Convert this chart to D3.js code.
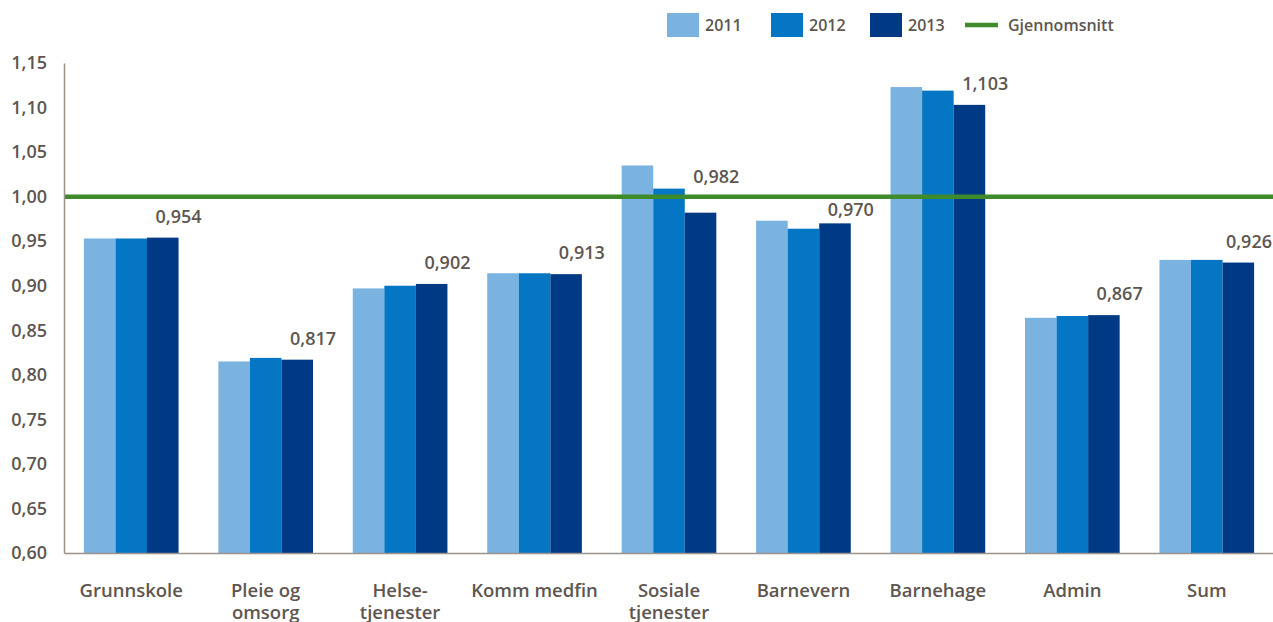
<!DOCTYPE html>
<html>
<head>
<meta charset="utf-8">
<script src="https://cdn.jsdelivr.net/npm/d3@7"></script>
<style>
  body { margin: 0; background: #fff; }
  svg text { font-family: "Open Sans", sans-serif; font-weight: 600; fill: #5e5650; }
</style>
</head>
<body>
<script>
// data
var categories = [["Grunnskole"], ["Pleie og", "omsorg"], ["Helse-", "tjenester"], ["Komm medfin"],
  ["Sosiale", "tjenester"], ["Barnevern"], ["Barnehage"], ["Admin"], ["Sum"]];
var years = ["2011", "2012", "2013"];
var values2011 = [0.953, 0.815, 0.897, 0.914, 1.035, 0.973, 1.123, 0.864, 0.929];
var values2012 = [0.953, 0.819, 0.900, 0.914, 1.009, 0.964, 1.119, 0.866, 0.929];
var values2013 = [0.954, 0.817, 0.902, 0.913, 0.982, 0.970, 1.103, 0.867, 0.926];
var average = 1.0;
var yTicks = [0.60, 0.65, 0.70, 0.75, 0.80, 0.85, 0.90, 0.95, 1.00, 1.05, 1.10, 1.15];
var colors = ["#7ab3e0", "#0576c4", "#003a84"];
var avgColor = "#3f8a2b";

var svgWidth = 1273, svgHeight = 622;
var margin = { left: 64, right: 1274, top: 63, bottom: 553 };

var svg = d3.select("body").append("svg")
  .attr("width", svgWidth)
  .attr("height", svgHeight);

var series = [values2011, values2012, values2013];
var rows = categories.map(function(c, i) {
  return { idx: i, label: c, vals: series.map(function(s) { return s[i]; }) };
});

// scales
var x0 = d3.scaleBand()
  .domain(d3.range(categories.length))
  .range([margin.left, margin.right])
  .paddingInner(0.296)
  .paddingOuter(0.148);

var x1 = d3.scaleBand()
  .domain(years)
  .range([0, x0.bandwidth()]);

var y = d3.scaleLinear()
  .domain([0.60, 1.15])
  .range([margin.bottom, margin.top]);

var fmt = function(v, n) { return v.toFixed(n).replace(".", ","); };

// bars
var groups = svg.append("g").selectAll("g")
  .data(rows)
  .enter().append("g")
  .attr("transform", d => `translate(${x0(d.idx)},0)`);

groups.selectAll("rect")
  .data(d => d.vals.map((v, k) => ({ year: years[k], v: v, k: k })))
  .enter().append("rect")
  .attr("x", d => x1(d.year))
  .attr("width", x1.bandwidth())
  .attr("y", d => y(d.v))
  .attr("height", d => y(0.60) - y(d.v))
  .attr("fill", d => colors[d.k]);

// average line
svg.append("line")
  .attr("x1", margin.left).attr("x2", svgWidth)
  .attr("y1", y(average)).attr("y2", y(average))
  .attr("stroke", avgColor)
  .attr("stroke-width", 4.5);

// value labels over the 2013 bar, pushed off the average line if they hit it
var capH = 13;
function labelY(v) {
  var base = y(v) - 15;
  var lineY = y(average);
  if (base + 3 > lineY - 3 && base - capH < lineY + 3) {
    base = (base - capH / 2 < lineY) ? lineY - 14 : lineY + 6 + capH;
  }
  return base;
}

groups.append("text")
  .attr("x", x1("2013") + x1.bandwidth())
  .attr("y", d => labelY(d.vals[2]))
  .attr("text-anchor", "middle")
  .attr("font-size", "18px")
  .text(d => fmt(d.vals[2], 3))
  .each(function(d) {
    // keep the label inside the picture
    var w = this.getComputedTextLength();
    var cx = x0(d.idx) + x1("2013") + x1.bandwidth();
    var maxCx = svgWidth - w / 2 - 1;
    if (cx > maxCx) d3.select(this).attr("x", maxCx - x0(d.idx));
  });

// y axis
var yAxis = svg.append("g")
  .attr("transform", `translate(${margin.left},0)`)
  .call(d3.axisLeft(y).tickValues(yTicks).tickSize(0).tickPadding(17).tickFormat(d => fmt(d, 2)));
yAxis.select(".domain").attr("stroke", "#9b928b").attr("stroke-width", 1.5);
yAxis.selectAll("text").attr("font-size", "18px").attr("font-family", null).attr("fill", null);

// x axis
var xAxis = svg.append("g")
  .attr("transform", `translate(0,${margin.bottom})`)
  .call(d3.axisBottom(d3.scaleLinear().range([margin.left, svgWidth])).ticks(0).tickSize(0));
xAxis.select(".domain").attr("stroke", "#9b928b").attr("stroke-width", 1.5);

// category labels
var catLabels = svg.append("g").selectAll("text")
  .data(rows)
  .enter().append("text")
  .attr("x", d => x0(d.idx) + x0.bandwidth() / 2)
  .attr("y", 597)
  .attr("text-anchor", "middle")
  .attr("font-size", "18.5px");

catLabels.selectAll("tspan")
  .data(d => d.label)
  .enter().append("tspan")
  .attr("x", function() { return d3.select(this.parentNode).attr("x"); })
  .attr("dy", (d, i) => i === 0 ? 0 : 22)
  .text(d => d);

// legend
var legend = svg.append("g");
var legendX = [667, 771, 870];
years.forEach(function(yr, k) {
  legend.append("rect")
    .attr("x", legendX[k]).attr("y", 13)
    .attr("width", 32).attr("height", 24)
    .attr("fill", colors[k]);
  legend.append("text")
    .attr("x", legendX[k] + 38).attr("y", 31)
    .attr("font-size", "16px")
    .text(yr);
});
legend.append("line")
  .attr("x1", 965).attr("x2", 998)
  .attr("y1", 25).attr("y2", 25)
  .attr("stroke", avgColor)
  .attr("stroke-width", 4.5);
legend.append("text")
  .attr("x", 1008).attr("y", 31)
  .attr("font-size", "16px")
  .text("Gjennomsnitt");
</script>
</body>
</html>
